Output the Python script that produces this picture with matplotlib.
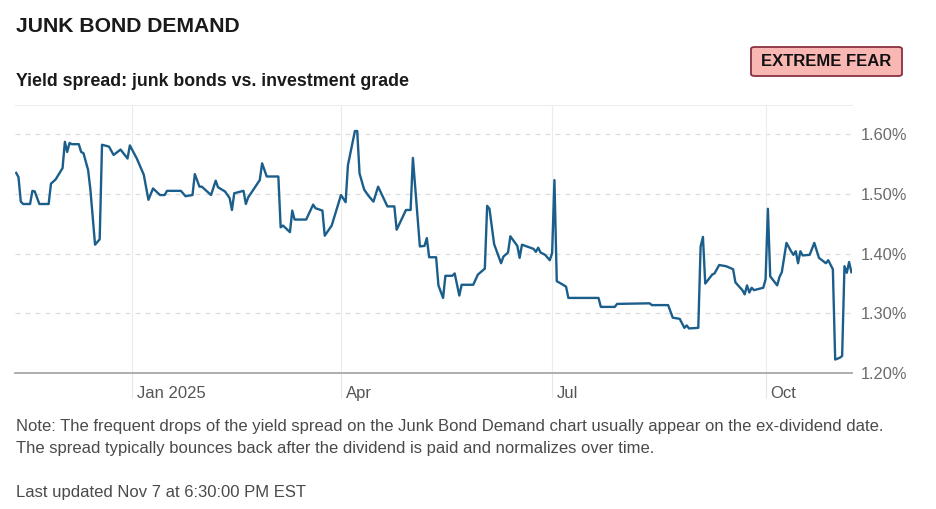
import matplotlib
matplotlib.use("Agg")
import matplotlib.pyplot as plt
import matplotlib.transforms as mtransforms
from matplotlib.patches import FancyBboxPatch
import pandas as pd

plt.rcParams['font.family'] = ['Liberation Sans', 'DejaVu Sans']

# Spread (junk minus investment grade), in percent
dates = [
    "2024-11-12", "2024-11-13", "2024-11-14", "2024-11-15", "2024-11-18", "2024-11-19",
    "2024-11-20", "2024-11-22", "2024-11-26", "2024-11-27", "2024-11-29", "2024-12-02",
    "2024-12-03", "2024-12-04", "2024-12-05", "2024-12-06", "2024-12-09", "2024-12-10",
    "2024-12-11", "2024-12-13", "2024-12-14", "2024-12-16", "2024-12-18", "2024-12-19",
    "2024-12-22", "2024-12-24", "2024-12-27", "2024-12-30", "2024-12-31",
    "2025-01-03", "2025-01-06", "2025-01-08", "2025-01-10", "2025-01-13", "2025-01-15",
    "2025-01-16", "2025-01-22", "2025-01-24", "2025-01-27", "2025-01-28", "2025-01-30",
    "2025-01-31", "2025-02-04", "2025-02-06", "2025-02-07", "2025-02-10", "2025-02-12",
    "2025-02-13", "2025-02-14", "2025-02-18", "2025-02-19", "2025-02-20", "2025-02-25",
    "2025-02-26", "2025-02-28", "2025-03-05", "2025-03-06", "2025-03-07", "2025-03-10",
    "2025-03-11", "2025-03-12", "2025-03-17", "2025-03-20", "2025-03-21", "2025-03-24",
    "2025-03-25", "2025-03-28", "2025-04-01", "2025-04-03", "2025-04-04", "2025-04-07",
    "2025-04-08", "2025-04-09", "2025-04-11", "2025-04-13", "2025-04-15", "2025-04-17",
    "2025-04-21", "2025-04-24", "2025-04-25", "2025-04-29", "2025-05-01", "2025-05-02",
    "2025-05-05", "2025-05-07", "2025-05-08", "2025-05-09", "2025-05-12", "2025-05-13",
    "2025-05-15", "2025-05-16", "2025-05-19", "2025-05-20", "2025-05-22", "2025-05-23",
    "2025-05-28", "2025-05-30", "2025-06-02", "2025-06-03", "2025-06-04", "2025-06-06",
    "2025-06-09", "2025-06-10", "2025-06-12", "2025-06-13", "2025-06-16", "2025-06-17",
    "2025-06-18", "2025-06-23", "2025-06-24", "2025-06-25", "2025-06-26", "2025-06-28",
    "2025-06-30", "2025-07-01", "2025-07-02", "2025-07-03", "2025-07-07", "2025-07-08",
    "2025-07-21", "2025-07-22", "2025-07-28", "2025-07-29", "2025-08-12", "2025-08-13",
    "2025-08-20", "2025-08-22", "2025-08-25", "2025-08-27", "2025-08-28", "2025-08-29",
    "2025-09-02", "2025-09-03", "2025-09-04", "2025-09-05", "2025-09-08", "2025-09-09",
    "2025-09-11", "2025-09-14", "2025-09-17", "2025-09-18", "2025-09-21", "2025-09-22",
    "2025-09-23", "2025-09-24", "2025-09-25", "2025-09-26", "2025-09-30", "2025-10-01",
    "2025-10-02", "2025-10-03", "2025-10-06", "2025-10-07", "2025-10-08", "2025-10-10",
    "2025-10-12", "2025-10-13", "2025-10-14", "2025-10-15", "2025-10-16", "2025-10-17",
    "2025-10-20", "2025-10-22", "2025-10-24", "2025-10-27", "2025-10-28", "2025-10-30",
    "2025-10-31", "2025-11-02", "2025-11-03", "2025-11-04", "2025-11-05", "2025-11-06",
    "2025-11-07",
]
spread = [
    1.535, 1.528, 1.487, 1.483, 1.483, 1.505,
    1.504, 1.483, 1.483, 1.517, 1.524, 1.543,
    1.587, 1.570, 1.585, 1.583, 1.583, 1.570,
    1.568, 1.540, 1.507, 1.415, 1.424, 1.582,
    1.579, 1.565, 1.574, 1.559, 1.581,
    1.559, 1.532, 1.490, 1.509, 1.498, 1.498,
    1.505, 1.505, 1.496, 1.498, 1.533, 1.512,
    1.512, 1.498, 1.522, 1.511, 1.504, 1.493,
    1.473, 1.501, 1.505, 1.483, 1.494, 1.523,
    1.551, 1.529, 1.529, 1.444, 1.447, 1.436,
    1.472, 1.457, 1.457, 1.482, 1.476, 1.472,
    1.430, 1.447, 1.498, 1.486, 1.548, 1.605,
    1.605, 1.534, 1.507, 1.496, 1.487, 1.512,
    1.479, 1.479, 1.440, 1.473, 1.473, 1.560,
    1.412, 1.413, 1.426, 1.394, 1.394, 1.347,
    1.326, 1.363, 1.363, 1.367, 1.330, 1.348,
    1.348, 1.365, 1.375, 1.480, 1.475, 1.416,
    1.384, 1.395, 1.402, 1.429, 1.413, 1.393,
    1.415, 1.408, 1.403, 1.410, 1.402, 1.398,
    1.389, 1.401, 1.523, 1.354, 1.345, 1.326,
    1.326, 1.311, 1.311, 1.316, 1.317, 1.314,
    1.314, 1.293, 1.291, 1.276, 1.280, 1.275,
    1.276, 1.412, 1.428, 1.350, 1.365, 1.367,
    1.381, 1.379, 1.374, 1.352, 1.339, 1.332,
    1.347, 1.335, 1.343, 1.339, 1.343, 1.357,
    1.475, 1.362, 1.347, 1.361, 1.369, 1.418,
    1.404, 1.398, 1.404, 1.384, 1.404, 1.397,
    1.398, 1.418, 1.393, 1.384, 1.389, 1.374,
    1.223, 1.226, 1.229, 1.379, 1.368, 1.386,
    1.369,
]

x_ticks = ["2025-01-01", "2025-04-01", "2025-07-01", "2025-10-01"]
x_tick_labels = ["Jan 2025", "Apr", "Jul", "Oct"]
y_ticks = [1.20, 1.30, 1.40, 1.50, 1.60]

LINE = "#1b5e8b"

fig = plt.figure(figsize=(9.36, 5.09), dpi=100)
ax = fig.add_axes([15 / 936, 1 - 373.3 / 509, 837 / 936, 268.3 / 509])

ax.plot(pd.to_datetime(dates), spread, color=LINE, lw=1.7, solid_joinstyle="round")

ax.set_xlim(pd.Timestamp("2024-11-11 12:00"), pd.Timestamp("2025-11-07 06:00"))
ax.set_ylim(1.20, 1.6485)

# y axis on the right with % labels
ax.yaxis.tick_right()
ax.set_yticks(y_ticks)
ax.set_yticklabels([f"{v:.2f}%" for v in y_ticks])
ax.tick_params(axis="y", length=0, pad=6, labelsize=11.8, labelcolor="#6b6b6b")
for v in y_ticks[1:]:
    ax.axhline(v, color="#dcdcdc", lw=0.9, ls=(0, (4, 4)), zorder=0)

# x ticks: light vertical lines that run below the baseline, labels to the right
tick_pos = pd.to_datetime(x_ticks)
ax.set_xticks(tick_pos)
ax.set_xticklabels(x_tick_labels)
ax.tick_params(axis="x", direction="out", length=18, width=0.8, color="#e6e6e6",
               pad=-9, labelsize=12, labelcolor="#555555")
offset = mtransforms.ScaledTranslation(5 / 100, 0, fig.dpi_scale_trans)
for lab in ax.get_xticklabels():
    lab.set_horizontalalignment("left")
    lab.set_transform(lab.get_transform() + offset)
for t in tick_pos:
    ax.axvline(t, color="#ececec", lw=0.8, zorder=0)

for side in ["left", "right"]:
    ax.spines[side].set_visible(False)
ax.spines["top"].set_color("#eeeeee")
ax.spines["top"].set_linewidth(0.8)
ax.spines["bottom"].set_color("#a8a8a8")
ax.spines["bottom"].set_linewidth(1.3)

# header
fig.text(16 / 936, 1 - 27 / 509, "JUNK BOND DEMAND", fontsize=15.2, fontweight="bold",
         color="#1a1a1a", va="center", ha="left")
fig.text(16 / 936, 1 - 81 / 509, "Yield spread: junk bonds vs. investment grade",
         fontsize=12.8, fontweight="bold", color="#1a1a1a", va="center", ha="left")

badge = FancyBboxPatch((751 / 936, 1 - 76 / 509), 151 / 936, 29 / 509,
                       boxstyle="round,pad=0,rounding_size=0.004",
                       transform=fig.transFigure, facecolor="#f9b7b4",
                       edgecolor="#8a3040", lw=1.3)
fig.patches.append(badge)
fig.text(826.5 / 936, 1 - 61.5 / 509, "EXTREME FEAR", fontsize=12, fontweight="bold",
         color="#111111", va="center", ha="center")

# footnotes
fig.text(16 / 936, 1 - 427 / 509,
         "Note: The frequent drops of the yield spread on the Junk Bond Demand chart "
         "usually appear on the ex-dividend date.",
         fontsize=12, color="#4a4a4a", va="center", ha="left")
fig.text(16 / 936, 1 - 448 / 509,
         "The spread typically bounces back after the dividend is paid and normalizes over time.",
         fontsize=12, color="#4a4a4a", va="center", ha="left")
fig.text(16 / 936, 1 - 492 / 509, "Last updated Nov 7 at 6:30:00 PM EST",
         fontsize=12, color="#4a4a4a", va="center", ha="left")

fig.savefig("out.png", dpi=100)
